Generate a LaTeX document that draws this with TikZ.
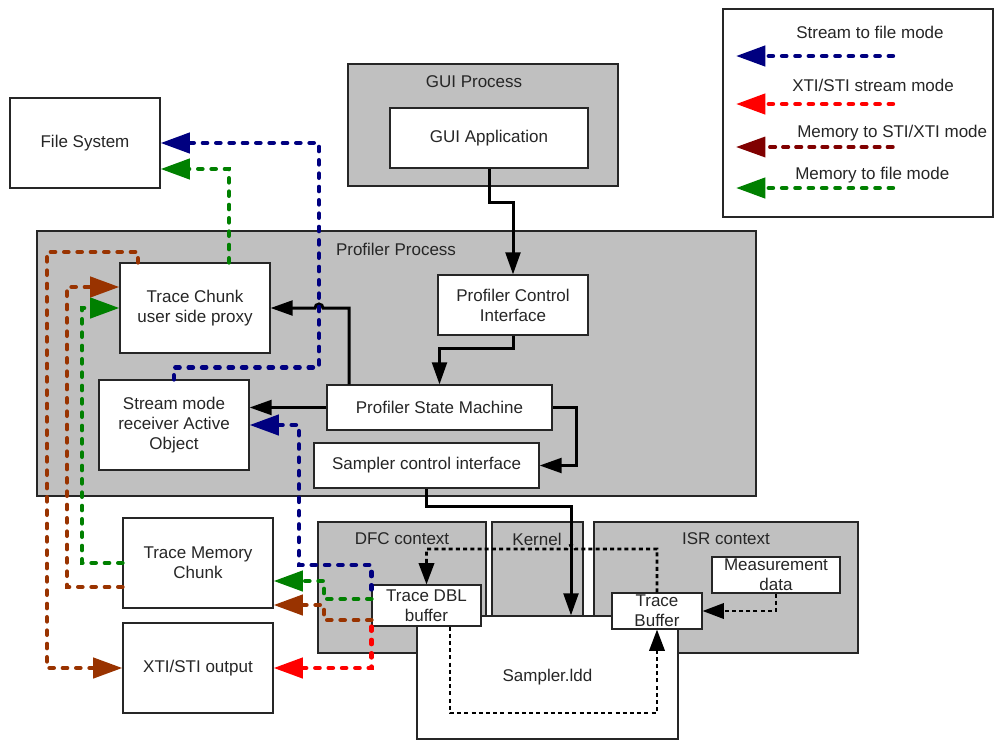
\documentclass[tikz,border=0pt]{standalone}
\usepackage{fontspec}
\setmainfont{Liberation Sans}
\usetikzlibrary{arrows.meta,calc}
\definecolor{strmblue}{RGB}{0,0,128}
\definecolor{xtired}{RGB}{255,0,0}
\definecolor{memxti}{RGB}{153,51,0}
\definecolor{memxtilg}{RGB}{128,0,0}
\definecolor{memfile}{RGB}{0,128,0}
\definecolor{ctxgray}{RGB}{192,192,192}
\tikzset{
  box/.style={draw=black!85, line width=0.8pt, fill=white, inner sep=1pt,
    align=center, text=black!85},
  bigbox/.style={box, minimum width=112.5pt, minimum height=67.5pt},
  ctx/.style={draw=black!85, line width=0.8pt, fill=ctxgray},
  lbl/.style={text=black!85, inner sep=0pt},
  ctl/.style={line width=2.25pt, -{Triangle[length=16.5pt,width=11pt]}},
  dotline/.style={line width=1.9pt, dash pattern=on 3pt off 2.4pt,
    -{Triangle[length=16pt,width=11.5pt]}},
  flow/.style={line width=3.3pt, line cap=round, dash pattern=on 3.2pt off 6.8pt,
    -{Triangle[length=22pt,width=15pt]}},
}
\begin{document}
\begin{tikzpicture}[x=0.75pt,y=-0.75pt,font=\fontsize{12.75}{15}\selectfont]
    \useasboundingbox (0,0) rectangle (1004,754);
    % legend
    \node[box, minimum width=202.5pt, minimum height=156pt] (legend) at (858,113) {};
    \node[lbl, anchor=west] (lgstrm) at (796,32) {Stream to file mode};
    \node[lbl, anchor=west] (lgxti) at (792,85) {XTI/STI stream mode};
    \node[lbl, anchor=west] (lgmemxti) at (797,133) {Memory to STI/XTI mode};
    \node[lbl, anchor=west] (lgmemfile) at (795,175) {Memory to file mode};
    \coordinate (la1) at (893,56);  \coordinate (lb1) at (736,56);
    \coordinate (la2) at (893,104); \coordinate (lb2) at (736,104);
    \coordinate (la3) at (893,147); \coordinate (lb3) at (736,147);
    \coordinate (la4) at (893,188); \coordinate (lb4) at (736,188);
    \draw[flow, strmblue] (la1) -- (lb1);
    \draw[flow, xtired] (la2) -- (lb2);
    \draw[flow, memxtilg, line width=2.6pt, dash pattern=on 4.2pt off 5.6pt] (la3) -- (lb3);
    \draw[flow, memfile] (la4) -- (lb4);
    % containers
    \node[ctx, minimum width=202.5pt, minimum height=91.5pt] (guiproc) at (483,125) {};
    \node[lbl] at (474,82) {GUI Process};
    \node[ctx, minimum width=539.25pt, minimum height=198.75pt] (profproc) at (396.5,363.5) {};
    \node[lbl] at (396,249) {Profiler Process};
    \node[ctx, minimum width=126pt, minimum height=98.25pt] (dfc) at (402,587.5) {};
    \node[lbl] at (402,539) {DFC context};
    \node[ctx, minimum width=68.25pt, minimum height=98.25pt] (kernel) at (537.5,587.5) {};
    \node[lbl] at (537,539) {Kernel};
    \node[ctx, minimum width=198pt, minimum height=98.25pt] (isr) at (726,587.5) {};
    \node[lbl] at (726,539) {ISR context};
    % boxes
    \node[bigbox] (fs) at (85,143) {File System};
    \node[box, minimum width=148.5pt, minimum height=45pt] (guiapp) at (489,138) {GUI Application};
    \node[bigbox] (proxy) at (195,308) {Trace Chunk\\user side proxy};
    \node[bigbox] (stream) at (174,425) {Stream mode\\receiver Active\\Object};
    \node[box, minimum width=112.5pt, minimum height=45pt] (pci) at (513,305) {Profiler Control\\Interface};
    \node[box, minimum width=168.75pt, minimum height=33.75pt] (psm) at (439.5,407.5) {Profiler State Machine};
    \node[box, minimum width=168.75pt, minimum height=33.75pt] (sci) at (426.5,465.5) {Sampler control interface};
    \node[bigbox] (tmc) at (198,563) {Trace Memory\\Chunk};
    \node[bigbox] (xti) at (198,668) {XTI/STI output};
    \node[box, minimum width=195.75pt, minimum height=92.25pt] (sampler) at (547.5,677.5) {Sampler.ldd};
    \node[box, minimum width=96pt, minimum height=27pt, inner sep=0pt] (meas) at (776,575) {Measurement\\data};
    \node[box, minimum width=81.75pt, minimum height=30.75pt, inner sep=0pt] (dbl) at (426.5,605.5) {Trace DBL\\buffer};
    \node[box, minimum width=67.5pt, minimum height=27pt, inner sep=0pt] (tbuf) at (657,611) {Trace\\Buffer};
    % control flow
    \draw[ctl] (guiapp.south) -- ++(0,34) -| (pci.north);
    \draw[ctl] (pci.south) -- ++(0,13) -| (psm.north);
    \draw[ctl] (psm.north -| 349,0) -- (349,308) -- (323,308) arc (0:-180:4) -- (proxy.east);
    \draw[ctl] (psm.west) -- (psm.west -| stream.east);
    \draw[ctl] (psm.east) -- ++(24,0) |- (sci.east);
    \draw[ctl] (sci.south) -- ++(0,18) -| (sampler.north -| 571,0);
    % driver side buffers
    \draw[dotline] (meas.south) |- (tbuf.east);
    \draw[dotline] (tbuf.north) |- (575,549) arc (0:-180:4) -| (dbl.north);
    \draw[dotline] (dbl.south -| 450,0) |- (tbuf.south |- 0,713) -- (tbuf.south);
    % stream to file mode
    \draw[flow, strmblue] ($(dbl.north west)+(0,5)$) |- (299,565) |- (stream.east);
    \draw[flow, strmblue] (stream.north) -- ++(0,-12) -| (319,143) -- (fs.east);
    % XTI/STI stream mode
    \draw[flow, xtired] (dbl.south west) |- (xti.east);
    % memory to file mode
    \draw[flow, memfile] ([yshift=4.9pt]dbl.west) -| (324,581) -- ([yshift=-13.5pt]tmc.east);
    \draw[flow, memfile] (tmc.west) -| (82,308) -- (proxy.west);
    \draw[flow, memfile] (proxy.north -| 229,0) |- ([yshift=-19.5pt]fs.east);
    % memory to STI/XTI mode
    \draw[flow, memxti] ([yshift=-10.9pt]dbl.west) -| (324,605) -- ([yshift=-31.5pt]tmc.east);
    \draw[flow, memxti] ([yshift=-18pt]tmc.west) -| (67,287) -- ([yshift=15.75pt]proxy.west);
    \draw[flow, memxti] (proxy.north -| 138,0) |- (47,252) |- (xti.west);
\end{tikzpicture}
\end{document}
